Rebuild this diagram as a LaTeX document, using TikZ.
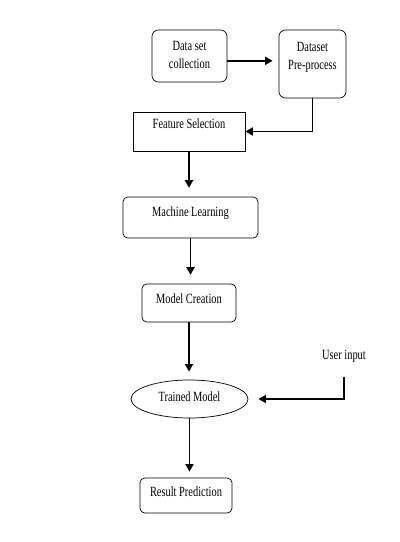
\documentclass[tikz,border=0pt]{standalone}
\usepackage{fontspec}
\setmainfont{Liberation Serif}[FakeStretch=0.74]
\usetikzlibrary{arrows.meta,shapes.geometric}

\begin{document}
\begin{tikzpicture}[x=0.025cm,y=-0.025cm,line width=0.5pt,
  font=\fontsize{10}{12.8}\selectfont,
  rbox/.style={draw,rounded corners=1.6mm,align=center,inner sep=0pt},
  sbox/.style={draw,align=center,inner sep=0pt,text height=1.8mm},
  oval/.style={draw,ellipse,inner sep=0pt,text height=1.8mm,text depth=0.5mm},
  flow/.style={-{Triangle[length=1.9mm,width=2mm]},line width=1.4pt}]
\useasboundingbox (0,0) rectangle (400,542);
% ================= boxes =================
\node[rbox,minimum width=1.875cm,minimum height=1.3cm,text depth=0.7mm] (dc) at (189.5,56) {Data set\\collection};
\node[rbox,minimum width=1.675cm,minimum height=1.7cm,text depth=4mm] (dp) at (312.5,64) {Dataset\\Pre-process};
\node[sbox,minimum width=2.8cm,minimum height=0.975cm,text depth=3.3mm] (fs) at (189,131.5) {Feature Selection};
\node[rbox,rounded corners=1.2mm,minimum width=3.375cm,minimum height=1.025cm,text height=1.8mm,text depth=2.3mm] (ml) at (190.5,217.5) {Machine Learning};
\node[rbox,rounded corners=1.2mm,minimum width=2.35cm,minimum height=0.95cm,text height=1.8mm,text depth=1.8mm] (mc) at (189,303) {Model Creation};
\node[oval,minimum width=2.925cm,minimum height=0.95cm] (tm) at (189.5,399) {Trained Model\hspace{3mm}};
\node[inner sep=0pt,text height=1.8mm,text depth=0.5mm] (ui) at (344,357) {User input};
\node[rbox,rounded corners=1.2mm,minimum width=2.3cm,minimum height=0.875cm,text height=1.8mm,text depth=1.1mm] (rp) at (186,495.5) {Result Prediction};
% ================= arrows =================
\draw[flow,shorten >=0.15cm] ([yshift=-0.12cm]dc.east) -- ([yshift=-0.12cm]dc.east -| dp.west);
\draw[flow] (dp.south) |- (fs.east);
\draw[flow,shorten >=0.22cm] (fs.south) -- (fs.south |- ml.north);
\draw[flow,shorten >=0.22cm] (ml.south) -- (ml.south |- mc.north);
\draw[flow,shorten >=0.2cm] (mc.south) -- (mc.south |- tm.north);
\draw[flow,shorten >=0.15cm] (tm.south) -- (tm.south |- rp.north);
% user input into the trained model
\draw[flow,shorten <=0.37cm,shorten >=0.25cm] (ui.south) |- (tm.east);
\end{tikzpicture}
\end{document}
